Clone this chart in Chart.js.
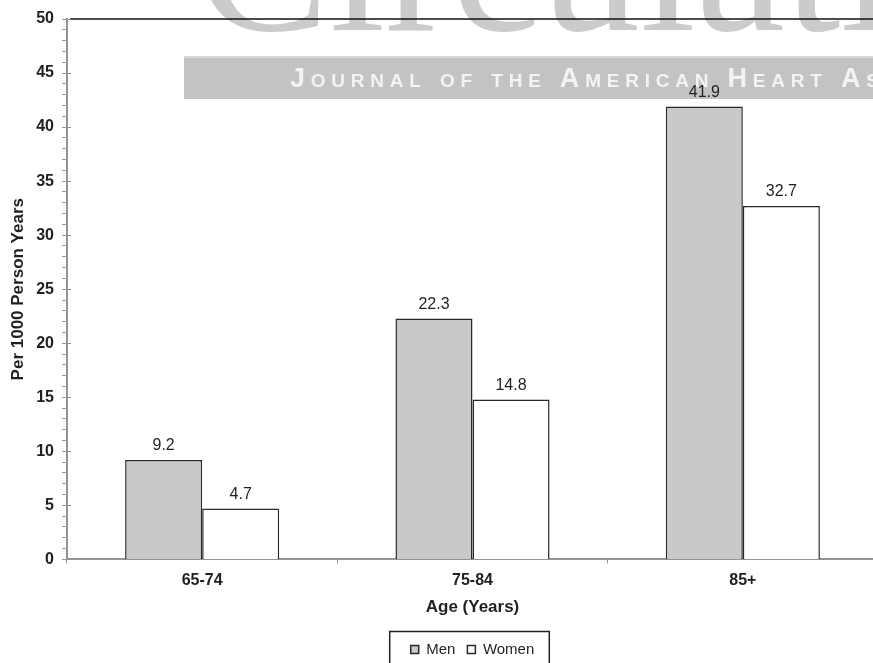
<!DOCTYPE html>
<html>
<head>
<meta charset="utf-8">
<script src="https://cdn.jsdelivr.net/npm/chart.js@4/dist/chart.umd.min.js"></script>
<style>
html, body { margin: 0; padding: 0; overflow: hidden; background: #fff; }
canvas { display: block; }
</style>
</head>
<body>
<canvas id="chart" width="880" height="690"></canvas>
<script>
const categories = ['65-74', '75-84', '85+'];
const menValues = [9.2, 22.3, 41.9];
const womenValues = [4.7, 14.8, 32.7];
const yTickLabels = ['0', '5', '10', '15', '20', '25', '30', '35', '40', '45', '50'];

const textColor = '#231f20';
const axisGray = '#949494';

// journal watermark sitting behind the chart
const watermark = {
    id: 'watermark',
    beforeDraw(chart) {
        const ctx = chart.ctx;
        ctx.save();
        ctx.fillStyle = '#cbcbcb';
        ctx.font = '200px "Liberation Serif"';
        ctx.textBaseline = 'alphabetic';
        ctx.fillText('Circulation', 196, 30);
        ctx.fillStyle = '#c3c3c3';
        ctx.fillRect(184, 56, 720, 43);
        ctx.fillStyle = '#d8d8d8';
        ctx.fillRect(184, 56, 720, 2);
        ctx.fillStyle = '#f3f3f3';
        ctx.font = 'small-caps bold 27px "Liberation Sans"';
        ctx.fontVariantCaps = 'small-caps';
        const part = 'Journal of the American Heart';
        ctx.letterSpacing = '0px';
        const w = ctx.measureText(part).width;
        ctx.letterSpacing = ((532 - w) / (part.length - 1)).toFixed(2) + 'px';
        ctx.fillText('Journal of the American Heart Association', 290, 87);
        ctx.restore();
    }
};

const frame = {
    id: 'frame',
    afterDraw(chart) {
        const ctx = chart.ctx;
        const area = chart.chartArea;
        const y = chart.scales.y;
        ctx.save();
        // top border of the plot
        ctx.strokeStyle = '#111';
        ctx.lineWidth = 1.5;
        ctx.beginPath();
        ctx.moveTo(area.left + 3, area.top);
        ctx.lineTo(area.right, area.top);
        ctx.stroke();
        // major ticks crossing the value axis
        ctx.strokeStyle = axisGray;
        ctx.lineWidth = 1;
        yTickLabels.forEach(t => {
            const py = Math.round(y.getPixelForValue(Number(t))) + 0.5;
            ctx.beginPath();
            ctx.moveTo(area.left - 5, py);
            ctx.lineTo(area.left + 4, py);
            ctx.stroke();
        });
        // legend frame
        const boxes = chart.legend.legendHitBoxes;
        if (boxes && boxes.length) {
            const l = Math.min(...boxes.map(b => b.left));
            const r = Math.max(...boxes.map(b => b.left + b.width));
            const cy = boxes[0].top + boxes[0].height / 2;
            ctx.strokeStyle = '#222';
            ctx.lineWidth = 1.5;
            ctx.strokeRect(l - 21, cy - 18, r - l + 36, 40);
        }
        ctx.restore();
    }
};

const valueLabels = {
    id: 'valueLabels',
    afterDatasetsDraw(chart) {
        const ctx = chart.ctx;
        ctx.save();
        ctx.font = '16px "Liberation Sans"';
        ctx.fillStyle = textColor;
        ctx.textAlign = 'center';
        ctx.textBaseline = 'middle';
        chart.data.datasets.forEach((ds, i) => {
            chart.getDatasetMeta(i).data.forEach((bar, j) => {
                ctx.fillText(ds.data[j].toFixed(1), bar.x, bar.y - 14);
            });
        });
        ctx.restore();
    }
};

new Chart(document.getElementById('chart'), {
    type: 'bar',
    data: {
        labels: categories,
        datasets: [
            {
                label: 'Men',
                data: menValues,
                backgroundColor: '#c8c9cb',
                borderColor: '#2a2a2a',
                borderWidth: 1.5,
                borderSkipped: 'bottom'
            },
            {
                label: 'Women',
                data: womenValues,
                backgroundColor: '#ffffff',
                borderColor: '#2a2a2a',
                borderWidth: 1.5,
                borderSkipped: 'bottom'
            }
        ]
    },
    options: {
        responsive: false,
        animation: false,
        devicePixelRatio: 1,
        categoryPercentage: 0.57,
        barPercentage: 1,
        layout: { padding: { top: 19, right: 2, left: 0, bottom: 23 } },
        plugins: {
            tooltip: { enabled: false },
            legend: {
                position: 'bottom',
                fullSize: false,
                labels: {
                    boxWidth: 8,
                    boxHeight: 8,
                    padding: 12,
                    color: textColor,
                    font: { family: 'Liberation Sans', size: 15 }
                }
            }
        },
        scales: {
            x: {
                grid: {
                    offset: true,
                    drawOnChartArea: false,
                    tickLength: 4,
                    color: axisGray
                },
                border: { color: axisGray, width: 2 },
                ticks: {
                    padding: 8,
                    maxRotation: 0,
                    color: textColor,
                    font: { family: 'Liberation Sans', size: 16, weight: 'bold' }
                },
                title: {
                    display: true,
                    text: 'Age (Years)',
                    color: textColor,
                    padding: { top: -1, bottom: 12 },
                    font: { family: 'Liberation Sans', size: 17, weight: 'bold' }
                }
            },
            y: {
                min: 0,
                max: 50,
                afterFit(scale) { scale.width = 67; },
                grid: {
                    drawOnChartArea: false,
                    tickLength: 5,
                    color: axisGray
                },
                border: { color: axisGray, width: 2 },
                ticks: {
                    stepSize: 1,
                    autoSkip: false,
                    padding: 8,
                    color: textColor,
                    font: { family: 'Liberation Sans', size: 16, weight: 'bold' },
                    callback: v => yTickLabels.find(t => Number(t) === v) ?? ''
                },
                title: {
                    display: true,
                    text: 'Per 1000 Person Years',
                    color: textColor,
                    padding: { top: 8, bottom: 0 },
                    font: { family: 'Liberation Sans', size: 17, weight: 'bold' }
                }
            }
        }
    },
    plugins: [watermark, valueLabels, frame]
});
</script>
</body>
</html>
